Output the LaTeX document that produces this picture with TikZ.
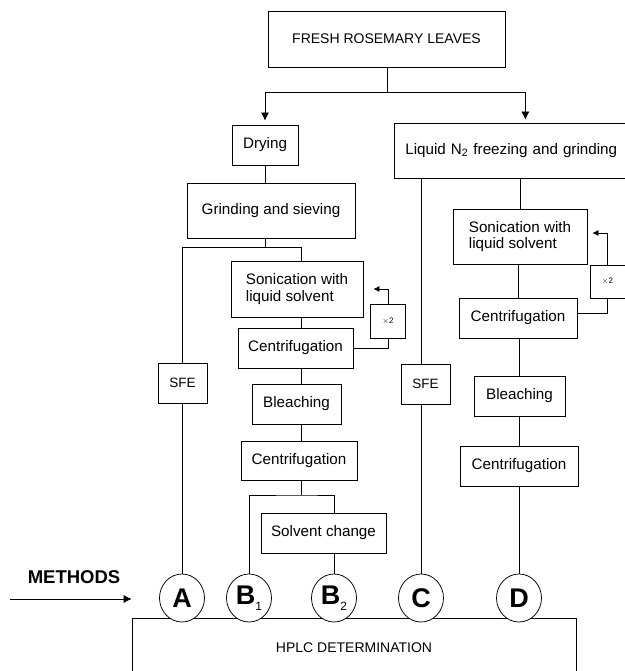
\documentclass[tikz,border=0pt]{standalone}
\usepackage{fontspec}
\setmainfont{Liberation Sans}
\usetikzlibrary{arrows.meta,shapes.geometric}
\tikzset{
  box/.style={draw, line width=0.75pt, inner sep=0pt, font=\fontsize{15.2}{16.5}\selectfont, align=center},
  tbox/.style={box, align=left},
  xbox/.style={draw, line width=0.75pt, inner sep=0pt, font=\fontsize{8}{9}\selectfont, minimum width=35pt, minimum height=34pt},
  meth/.style={draw, line width=0.75pt, ellipse, fill=white, inner sep=0pt, minimum width=45pt, minimum height=48pt, font=\fontsize{27}{27}\selectfont\bfseries},
  con/.style={line width=0.75pt},
  arr/.style={line width=0.75pt, -{Latex[length=8pt,width=8pt]}},
  sarr/.style={line width=0.75pt, -{Latex[length=6pt,width=6pt]}},
}
\newcommand{\sbx}[1]{{\fontsize{12}{12}\selectfont\normalfont\raisebox{-6pt}{#1}}}
\begin{document}
\begin{tikzpicture}[x=1pt,y=-1pt]
\useasboundingbox (0,0) rectangle (624,671);
% nodes
\node[box, minimum width=237pt, minimum height=56pt, font=\fontsize{14}{16}\selectfont] (fresh) at (386.5,39) {FRESH ROSEMARY LEAVES};
\node[box, minimum width=66pt, minimum height=40pt] (drying) at (265,145) {Drying};
\node[box, anchor=west, inner xsep=11pt, text width=240pt, align=left, minimum height=55pt] (liq) at (394,150.5) {Liquid N\textsubscript{2} freezing and grinding};
\node[box, minimum width=168pt, minimum height=55pt] (grind) at (271,210.5) {Grinding and sieving};
\node[box, minimum width=49pt, minimum height=40pt, font=\fontsize{13.5}{16}\selectfont] (sfeA) at (182.5,383) {SFE};
\node[tbox, minimum width=132pt, minimum height=56pt] (son1) at (297,289) {Sonication with\\liquid solvent};
\node[box, minimum width=115pt, minimum height=40pt] (cen1) at (295.5,348) {Centrifugation};
\node[xbox] (x2a) at (388,321.5) {$\times$2};
\node[box, minimum width=89pt, minimum height=40pt] (bl1) at (296.5,404) {Bleaching};
\node[box, minimum width=116pt, minimum height=39pt] (cen2) at (299,460.5) {Centrifugation};
\node[box, minimum width=125pt, minimum height=40pt] (solv) at (323.5,533) {Solvent change};
\node[box, minimum width=49pt, minimum height=40pt, font=\fontsize{13.5}{16}\selectfont] (sfeC) at (425.5,384) {SFE};
\node[tbox, minimum width=134pt, minimum height=55pt] (son2) at (520,236.5) {Sonication with\\liquid solvent};
\node[box, minimum width=118pt, minimum height=40pt] (cen3) at (518,318) {Centrifugation};
\node[xbox, minimum height=33pt] (x2b) at (607.5,281.5) {$\times$2};
\node[box, minimum width=91pt, minimum height=40pt] (bl2) at (519.5,396) {Bleaching};
\node[box, minimum width=118pt, minimum height=40pt] (cen4) at (519,466) {Centrifugation};
\node[box, minimum width=444pt, minimum height=60pt, font=\fontsize{14}{16}\selectfont] (hplc) at (354,648) {HPLC DETERMINATION};
\node[font=\fontsize{18.5}{19}\selectfont\bfseries] (methods) at (74,577) {METHODS};
\coordinate (mstart) at (10,599);
% circles
\node[meth] (A) at (182,598) {A};
\node[meth] (B1) at (249,598) {B\sbx{1}};
\node[meth] (B2) at (334,598) {B\sbx{2}};
\node[meth] (C) at (421,598) {C};
\node[meth] (D) at (519,598) {D};
% coordinates for line positions
\coordinate (j0) at (387,92);
\coordinate (j1) at (265,247);
\coordinate (cB) at (301,0);
\coordinate (j2) at (301,495);
\coordinate (cR) at (520,0);
% connectors
\draw[con] (fresh.south -| j0) -- (j0);
\draw[arr, shorten >=4pt] (j0) -| (drying.north);
\draw[arr, shorten >=3pt] (j0) -| (liq.north);
\draw[con] (drying.south) -- (drying.south |- grind.north);
\draw[con] (grind.south -| j1) -- (j1);
\draw[con] (sfeA.north) |- (j1 -| cB) -- (son1.north -| cB);
\draw[con] (son1.south -| cB) -- (cen1.north -| cB);
\draw[con] (cen1.south -| cB) -- (bl1.north -| cB);
\draw[con] (bl1.south -| cB) -- (cen2.north -| cB);
\draw[con] (cen2.south -| cB) -- (j2);
\draw[con] (B1.north) |- (j2) -| (solv.north -| B2);
\draw[con] (solv.south -| B2) -- (B2.north);
\draw[con] (sfeA.south -| A) -- (A.north);
\draw[con] (cen1.east) -| (x2a.south);
\draw[sarr, shorten >=10pt] (x2a.north) |- (son1.east);
% C column
\draw[con] (liq.south -| C) -- (sfeC.north -| C);
\draw[con] (sfeC.south -| C) -- (C.north);
% D column
\draw[con] (liq.south -| cR) -- (son2.north -| cR);
\draw[con] (son2.south -| cen3.north) -- (cen3.north);
\draw[con] ([yshift=5pt]cen3.east) -| (x2b.south);
\draw[sarr, shorten >=5pt] (x2b.north) |- ([yshift=3.5pt]son2.east);
\draw[con] (cen3.south -| D) -- (bl2.north -| D);
\draw[con] (bl2.south -| D) -- (cen4.north -| D);
\draw[con] (cen4.south -| D) -- (D.north);
% methods arrow
\draw[arr] (mstart) -- (mstart -| hplc.west);
\end{tikzpicture}
\end{document}
